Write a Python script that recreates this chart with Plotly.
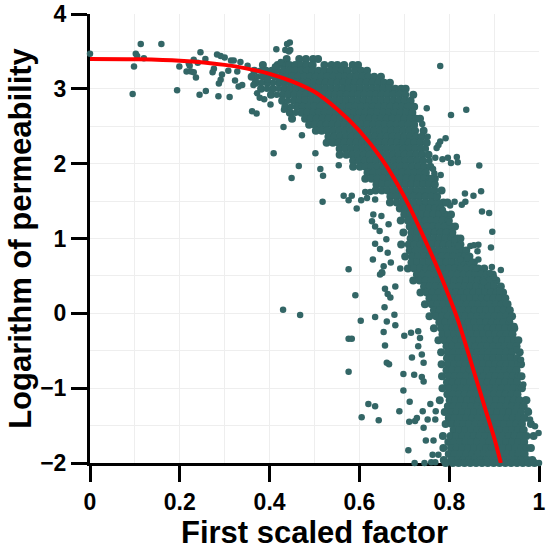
import plotly.graph_objects as go

curve_x = [0, .1, .2, .3, .35, .4, .45, .5, .55, .6, .65, .7, .75, .78, .8, .82, .85, .88, .9, .915]
curve_y = [3.40, 3.395, 3.375, 3.32, 3.27, 3.2, 3.1, 2.96, 2.73, 2.44, 2.06, 1.56, .93, .52, .22, -.1, -.68, -1.27, -1.66, -2]

sparse_x = [0,.095,.098,.102,.105,.113,.12,.159,.194,.199,.215,.22,.222,.225,.231,.231,.236,.24,.244,.246,.257,.258,.273,.276,.283,.286,.287,.291,.294,.291,.3,.308,.311,.314,.32,.323,.335,.331,.339,.328,.361,.371,.409,.449,.465,.431,.415,.445,.439,.435,.446,.443,
 .78,.804,.838,.75,.792,.78,.772,.776,.769,.785,.797,.804,.817,.819,.867,.767,.781,.835,.854,.871,.812,.802,.836,.828,.873,.889,.896,.893,.843,.863,.865,.847,.855,.865,.85,.915,.895,.891,
 .502,.472,.513,.519,.518,.554,.576,.565,.576,.583,.594,.604,.617,.613,.624,.635,.631,.628,.649,.635,.645,.665,.635,.66,.646,.663,.63,.67,.654,.65,.691,
 .43,.468,.591,.603,.635,.576,.583,.576,.62,.635,.605,.643,.689,.712,.711,.724,.728,.709,.723,.745,.76,.769,.763,.776,.748,.765,.758,.741,.752,.743,.77,.769,
 .698,.722,.717,.698,.739,.743,.657,.661,.666,.654,.661,.68,.678,.656,.646,.651,.657,.663,.669,.68,.7,.715,.731,.735,.731,.739,.743,1.0,.999,.991,.98,
 .74,.748,.752,.756,.76,.764,.768,.772,.786,.792,.8,.808,.812,.82,.825,.84,.86,.877,.9,.912,.925,.935,.945,.95,.96,.965,.97,.975,
 .379,.418,.373,.399,.382,.408,.394,.42,.416,.441,.448,.458,.351,.372,.388,.402,.425,.412,.396,.378,.432,.364]
sparse_y = [3.47,2.93,3.30,3.47,3.44,3.60,3.41,3.60,2.98,3.30,3.23,3.34,3.31,3.23,3.39,3.22,3.15,3.35,2.92,3.49,3.40,2.97,3.22,3.27,3.46,2.90,3.07,3.12,3.19,3.44,3.42,3.24,2.89,3.38,3.38,3.11,3.36,3.03,3.05,3.23,2.70,2.67,2.14,1.81,1.97,2.49,3.53,3.62,3.60,3.52,3.52,3.5,
 3.305,2.65,2.72,2.74,2.34,2.295,2.21,2.25,2.08,2.06,2.08,2.01,2.09,2.02,1.975,1.87,1.85,1.60,1.57,1.63,1.49,1.44,1.49,1.45,1.36,1.34,1.09,.88,.77,.83,.915,.9,.91,.72,.69,.58,.62,.54,
 2.14,2.38,1.93,1.84,1.49,1.98,.59,1.57,1.51,1.57,1.40,1.51,1.54,1.62,1.62,1.52,1.32,1.23,1.30,1.16,1.10,1.19,.93,.99,.86,.81,.72,.68,.63,.55,.60,
 .048,-.023,.24,-.10,-.05,-.34,-.34,-.78,-1.21,-1.24,-1.39,-1.43,-1.31,-1.18,-1.45,-1.44,-1.4,-1.83,-2,-2,-1.99,-1.99,-1.89,-1.89,-1.7,-1.7,-1.21,-1.31,-1.42,-1.53,-1.31,-1.42,
 -.81,-.82,-.59,-1.03,-.85,-.91,-.43,-.66,-.68,-.25,-.11,-.16,-.02,.08,.52,.54,.33,.26,.21,.36,-.3,-.26,-.24,-.33,-.44,-.55,-.66,-2.0,-1.6,-1.51,-1.42,
 2.53,2.2,2.36,2.04,1.8,1.93,1.72,1.55,1.38,1.47,1.22,1.06,.98,.9,.72,.74,.6,.42,.48,.3,.14,-.08,-.17,-.48,-.62,-.95,-1.15,-1.3,
 3.24,3.24,3.16,3.16,3.08,3.08,3.00,3.00,2.92,2.84,2.76,2.68,3.31,2.94,2.86,2.79,3.36,3.30,3.12,2.88,2.72,3.05]

dense_levels = [3.40,3.32,3.24,3.16,3.08,3.00,2.92,2.84,2.76,2.68,2.60,2.52,2.44,2.36,2.28,2.20,2.12,2.04,1.96,1.88,1.80,1.72,1.64,1.56,1.48,1.40,1.32,1.24,1.16,1.08,1.00,.92,.84,.76,.68,.60,.52,.44,.36,.28,.20,.12,.04,-.04,-.12,-.20,-.28,-.36,-.44,-.52,-.60,-.68,-.76,-.84,-.92,-1.00,-1.08,-1.16,-1.24,-1.32,-1.40,-1.48,-1.56,-1.64,-1.72,-1.80,-1.88,-1.96,-2.00]

# thousandths of the first scaled factor, one list per level above
dense_factors = [
[438,466,481,497,508],
[385,418,431,444,457,470,483,496,522,538,551,566,585,597],
[366,392,405,431,444,457,470,483,496,509,522,535,548,561,574,590,604,617],
[360,386,412,425,438,451,464,477,490,503,516,529,542,555,568,581,594,607,620,633,648],
[369,395,421,434,447,460,473,486,499,512,525,538,551,564,577,590,603,616,629,642,655,668],
[381,407,433,446,459,472,485,498,511,524,537,550,563,576,589,602,615,628,641,654,667,680,693,703],
[403,429,442,455,468,481,494,507,520,533,546,559,572,585,598,611,624,637,650,663,676,689,702,720],
[428,454,467,480,493,506,519,532,545,558,571,584,597,610,623,636,649,662,675,688,701,714],
[435,461,474,487,500,513,526,539,552,565,578,591,604,617,630,643,656,669,682,695,708,722],
[445,471,484,497,510,523,536,549,562,575,588,601,614,627,640,653,666,679,692,705,718],
[450,479,492,505,518,531,544,557,570,583,596,609,622,635,648,661,674,687,700,713,726,735],
[488,501,514,527,540,553,566,579,592,605,618,631,644,657,670,683,696,709,722],
[503,516,529,542,555,568,581,594,607,620,633,646,659,672,685,698,711,724,743],
[531,544,557,570,583,596,609,622,635,648,661,674,687,700,713,726,739],
[527,541,554,567,580,593,606,619,632,645,658,671,684,697,710,723,736,750],
[556,569,582,595,608,621,634,647,660,673,686,699,712,725,738],
[556,571,584,597,610,623,636,649,662,675,688,701,714,727,740,754],
[586,599,612,625,638,651,664,677,690,703,716,729,742],
[586,601,614,627,640,653,666,679,692,705,718,731,744,758],
[618,631,644,657,670,683,696,709,722,735,748],
[613,627,640,653,666,679,692,705,718,731,744,757,768],
[638,651,664,677,690,703,716,729,742,755,768],
[636,650,663,676,689,702,715,728,741,754,767,783],
[669,682,695,708,721,734,747,760,773],
[668,683,696,709,722,735,748,761,774,787,796],
[690,703,716,729,742,755,768,781],
[700,713,726,739,752,765,778,791,804],
[692,708,721,734,747,760,773,786,799],
[712,725,738,751,764,777,790,803,813],
[698,716,729,742,755,768,781,794,807],
[714,727,740,753,766,779,792,805,818,825],
[693,710,723,736,749,762,775,788,801,814,825],
[712,725,738,751,764,777,790,803,816,829,838],
[702,718,731,744,757,770,783,796,809,822,835,845],
[716,729,742,755,768,781,794,807,820,833,846,855],
[708,722,735,748,761,774,787,800,813,826,839,852,865,878],
[728,741,754,767,780,793,806,819,832,845,858,871,884,897],
[720,734,747,760,773,786,799,812,825,838,851,864,877,890,905],
[744,757,770,783,796,809,822,835,848,861,874,887,900,915],
[736,750,763,776,789,802,815,828,841,854,867,880,893,906,920],
[756,769,782,795,808,821,834,847,860,873,886,899,912,925],
[746,761,774,787,800,813,826,839,852,865,878,891,904,917,930],
[766,779,792,805,818,831,844,857,870,883,896,909,922,935],
[756,771,784,797,810,823,836,849,862,875,888,901,914,927,940],
[778,791,804,817,830,843,856,869,882,895,908,921,934],
[766,782,795,808,821,834,847,860,873,886,899,912,925,938,945],
[785,798,811,824,837,850,863,876,889,902,915,928,941],
[776,789,802,815,828,841,854,867,880,893,906,919,932,945,954],
[794,807,820,833,846,859,872,885,898,911,924,937,950],
[782,797,810,823,836,849,862,875,888,901,914,927,940,957],
[795,808,821,834,847,860,873,886,899,912,925,938,951],
[783,798,811,824,837,850,863,876,889,902,915,928,941,954,960],
[794,807,820,833,846,859,872,885,898,911,924,937,950],
[784,799,812,825,838,851,864,877,890,903,916,929,942,955,961],
[795,808,821,834,847,860,873,886,899,912,925,938,951],
[785,800,813,826,839,852,865,878,891,904,917,930,943,956,962],
[796,809,822,835,848,861,874,887,900,913,926,939,952],
[779,801,814,827,840,853,866,879,892,905,918,931,944,957,972],
[797,810,823,836,849,862,875,888,901,914,927,940,953,966],
[790,804,817,830,843,856,869,882,895,908,921,934,947,960,976],
[799,812,825,838,851,864,877,890,903,916,929,942,955,968],
[792,806,819,832,845,858,871,884,897,910,923,936,949,962,982],
[810,823,836,849,862,875,888,901,914,927,940,953,966],
[786,803,816,829,842,855,868,881,894,907,920,933,946,959,972,988],
[798,811,824,837,850,863,876,889,902,915,928,941,954,967],
[787,804,817,830,843,856,869,882,895,908,921,934,947,960,973,982],
[799,812,825,838,851,864,877,890,903,916,929,942,955,968],
[788,805,818,831,844,857,870,883,896,909,922,935,948,961,974,985],
[792,808,821,834,847,860,873,886,899,912,925,938,951,964,977,990],
]

title_x = "First scaled factor"
title_y = "Logarithm of permeability"
xticks = [0, .2, .4, .6, .8, 1]
xlabels = ["0", "0.2", "0.4", "0.6", "0.8", "1"]
yticks = [-2, -1, 0, 1, 2, 3, 4]

dense_x = []
dense_y = []
for lvl, row in zip(dense_levels, dense_factors):
    for v in row:
        dense_x.append(v / 1000)
        dense_y.append(lvl)

fig = go.Figure()
fig.add_trace(go.Scatter(x=dense_x, y=dense_y, mode="markers", cliponaxis=False,
                         marker=dict(color="#336666", size=8, line=dict(width=0)), hoverinfo="skip"))
fig.add_trace(go.Scatter(x=sparse_x, y=sparse_y, mode="markers", cliponaxis=False,
                         marker=dict(color="#336666", size=6.5, line=dict(width=0)), hoverinfo="skip"))
fig.add_trace(go.Scatter(x=curve_x, y=curve_y, mode="lines", cliponaxis=False,
                         line=dict(color="#ff0000", width=4, shape="spline", smoothing=1), hoverinfo="skip"))

font_tick = dict(family="Liberation Sans", size=23, color="#000000", weight="bold")
font_title = dict(family="Liberation Sans", size=31, color="#000000", weight="bold")
axis_common = dict(showline=True, linecolor="#000000", linewidth=3, ticks="outside", tickcolor="#000000",
                   tickwidth=2.5, ticklen=16, zeroline=False, showgrid=True, gridcolor="#eeeeee", gridwidth=1,
                   layer="below traces", tickfont=font_tick, automargin=False)
fig.update_xaxes(range=[0, 1], tickvals=xticks, ticktext=xlabels, **axis_common,
                 minor=dict(dtick=0.1, showgrid=True, gridcolor="#eeeeee", gridwidth=1, ticks=""),
                 title=dict(text=title_x, font=font_title, standoff=6))
fig.update_yaxes(range=[-2, 4], tickvals=yticks, **axis_common,
                 minor=dict(dtick=0.5, showgrid=True, gridcolor="#eeeeee", gridwidth=1, ticks=""),
                 title=dict(text=title_y, font=font_title, standoff=0))
fig.update_layout(width=546, height=550, showlegend=False, plot_bgcolor="white", paper_bgcolor="white",
                  margin=dict(l=89.5, r=7, t=14, b=86.5))
fig.write_html("out.html", config=dict(displayModeBar=False), post_script="document.body.style.margin='0';")
